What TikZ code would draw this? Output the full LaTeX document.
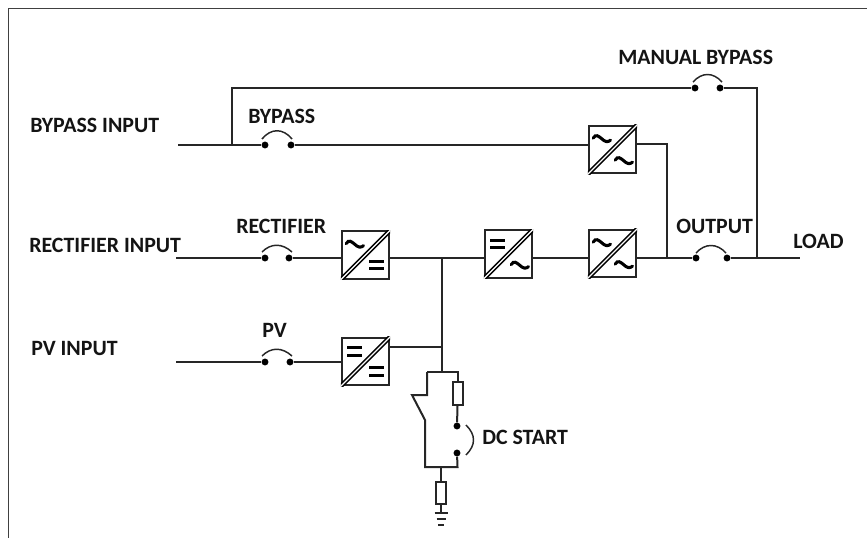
\documentclass[tikz,border=0pt]{standalone}
\usepackage{fontspec}
\setmainfont{Carlito}
\tikzset{
  x=0.75pt,y=-0.75pt,
  wire/.style={line width=1.5pt,draw=black!85,line join=miter},
  frame/.style={line width=1.2pt,draw=black!75},
  lab/.style={font=\fontsize{16.4pt}{18pt}\selectfont\bfseries,text=black!92,inner sep=0pt,anchor=west},
  dot/.style={circle,fill=black,draw=none,minimum size=5.2pt,inner sep=0pt},
  conv/.style={rectangle,draw=black!85,line width=1.6pt,minimum width=35.5pt,minimum height=35.5pt,inner sep=0pt},
  res/.style={rectangle,draw=black!85,line width=1.5pt,fill=white,minimum width=7.5pt,minimum height=17pt,inner sep=0pt},
  arcl/.style={line width=1.1pt,draw=black!85}
}
% double-stroked diagonal, kept inside a converter node
\newcommand{\convdiag}[1]{%
  \begin{scope}
    \clip (#1.south west) rectangle (#1.north east);
    \draw[black,line width=3.4pt] (#1.south west) -- (#1.north east);
    \draw[white,line width=1pt] (#1.south west) -- (#1.north east);
  \end{scope}}
\newcommand{\tildeat}[3]{%
  \draw[black,line width=2.3pt,line cap=round]
    ([shift={(#2-6.5pt,#3+0pt)}]#1.center) .. controls ([shift={(#2-4.5pt,#3+3.5pt)}]#1.center) and ([shift={(#2-2.5pt,#3+1.5pt)}]#1.center) ..
    ([shift={(#2+0pt,#3-0.5pt)}]#1.center) .. controls ([shift={(#2+2pt,#3-2.5pt)}]#1.center) and ([shift={(#2+4.5pt,#3-3.5pt)}]#1.center) ..
    ([shift={(#2+6.5pt,#3-1.5pt)}]#1.center);}
\newcommand{\eqat}[3]{%
  \fill[black] ([shift={(#2-5.6pt,#3+4pt)}]#1.center) rectangle ([shift={(#2+5.6pt,#3+1.6pt)}]#1.center);
  \fill[black] ([shift={(#2-5.6pt,#3-1.6pt)}]#1.center) rectangle ([shift={(#2+5.6pt,#3-4pt)}]#1.center);}
\begin{document}
\begin{tikzpicture}
\useasboundingbox (0,0) rectangle (867,538);
\draw[frame] (8.5,538) -- (8.5,8.5) -- (867,8.5);

% converters
\node[conv] (cb) at (612.5,149.5) {};
\node[conv] (cr) at (365.5,255) {};
\node[conv] (cd) at (508.5,254) {};
\node[conv] (ci) at (612.5,253.5) {};
\node[conv] (cp) at (365.5,361.5) {};
\foreach \n in {cb,cr,cd,ci,cp}{\convdiag{\n}}
\tildeat{cb}{-8pt}{8.5pt}\tildeat{cb}{8.5pt}{-8pt}
\tildeat{cr}{-8pt}{8.5pt}\eqat{cr}{8pt}{-7.5pt}
\eqat{cd}{-8pt}{7.5pt}\tildeat{cd}{8.5pt}{-8pt}
\tildeat{ci}{-8pt}{8.5pt}\tildeat{ci}{8.5pt}{-8pt}
\eqat{cp}{-8pt}{7.5pt}\eqat{cp}{8pt}{-7.5pt}

% switch contacts
\node[dot] (bl) at (265,145) {};
\node[dot] (br) at (291,145) {};
\node[dot] (rl) at (265,258) {};
\node[dot] (rr) at (289,258) {};
\node[dot] (pl) at (265,362) {};
\node[dot] (pr) at (290,362) {};
\node[dot] (ml) at (695,88) {};
\node[dot] (mr) at (720,88) {};
\node[dot] (ol) at (696,258) {};
\node[dot] (or) at (727,258) {};
\node[dot] (dt) at (457,426) {};
\node[dot] (db) at (457,453) {};
\draw[arcl] (262,139) .. controls (271,128) and (283,128) .. (292,139);
\draw[arcl] (262,252) .. controls (271,243) and (282,243) .. (292,252);
\draw[arcl] (262,356) .. controls (271,347) and (282,347) .. (292,356);
\draw[arcl] (693,82) .. controls (702,72) and (713,72) .. (722,82);
\draw[arcl] (696,253) .. controls (705,243) and (717,243) .. (726,253);
\draw[arcl] (466,425) .. controls (476,435) and (476,445) .. (466,455);

% resistors
\node[res] (r1) at (457.5,393.5) {};
\node[res] (r2) at (441,493) {};

% free ends and junctions
\coordinate (bin) at (178,145);
\coordinate (rin) at (176,258);
\coordinate (pin) at (176,362);
\coordinate (out) at (800,258);
\coordinate (jb) at (232,145);
\coordinate (jt) at (232,88);
\coordinate (jm) at (757,88);
\coordinate (jl) at (757,258);
\coordinate (jo) at (667,258);
\coordinate (jc) at (667,144);
\coordinate (dc) at (441.5,258);
\coordinate (dp) at (441.5,347);
\coordinate (ds) at (441.5,372);
\coordinate (sl) at (427,372);
\coordinate (sr) at (457.5,372);
\coordinate (k1) at (427,395);
\coordinate (k2) at (412,395);
\coordinate (k3) at (425,420);
\coordinate (bl1) at (425,467);
\coordinate (br1) at (457.5,467);
\coordinate (st) at (441,467);
\coordinate (gnd) at (441,513);

% wires
\draw[wire] (bin) -- (bl);
\draw[wire] (br) -- (br -| cb.west);
\draw[wire] (jb) -- (jt) -- (ml);
\draw[wire] (mr) -- (jm) -- (jl);
\draw[wire] (cb.east |- jc) -- (jc) -- (jo);
\draw[wire] (rin) -- (rl);
\draw[wire] (rr) -- (rr -| cr.west);
\draw[wire] (cr.east |- dc) -- (dc -| cd.west);
\draw[wire] (cd.east |- dc) -- (dc -| ci.west);
\draw[wire] (ci.east |- jo) -- (ol);
\draw[wire] (or) -- (out);
\draw[wire] (pin) -- (pl);
\draw[wire] (pr) -- (pr -| cp.west);
\draw[wire] (cp.east |- dp) -- (dp);
\draw[wire] (dc) -- (ds);
\draw[wire] (sl) -- (sr) -- (r1.north);
\draw[wire] (sl) -- (k1) -- (k2) -- (k3) -- (bl1) -- (br1) -- (db);
\draw[wire] (r1.south) -- (dt);
\draw[wire] (st) -- (r2.north);
\draw[wire] (r2.south) -- (gnd);
\draw[wire] (434.5,513) -- (447.5,513);
\draw[wire] (436.5,518.5) -- (445.5,518.5);
\draw[wire] (438,524.5) -- (444,524.5);

% labels
\node[lab] (t1) at (30,125) {BYPASS INPUT};
\node[lab] (t2) at (29,245) {RECTIFIER INPUT};
\node[lab] (t3) at (31,348) {PV INPUT};
\node[lab] (t4) at (248,116) {BYPASS};
\node[lab] (t5) at (236,226) {RECTIFIER};
\node[lab] (t6) at (262,330) {PV};
\node[lab] (t7) at (618,57) {MANUAL BYPASS};
\node[lab] (t8) at (676,226) {OUTPUT};
\node[lab] (t9) at (793,241) {LOAD};
\node[lab] (t10) at (482,437) {DC START};
\end{tikzpicture}
\end{document}
